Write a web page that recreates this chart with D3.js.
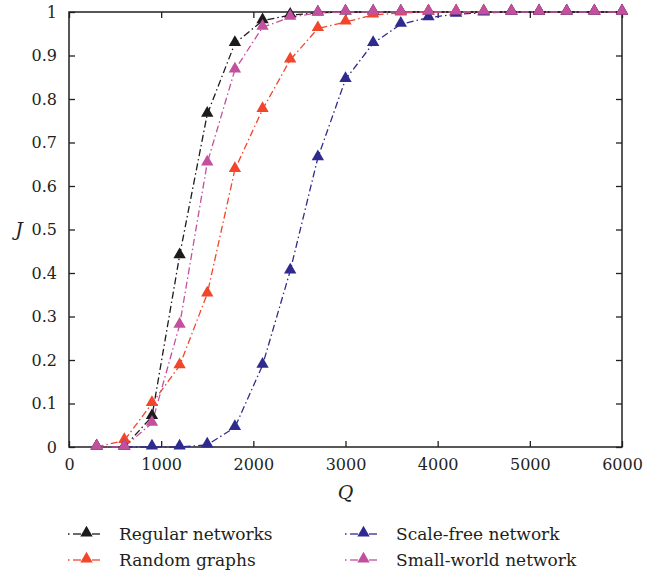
<!DOCTYPE html>
<html><head><meta charset="utf-8">
<script src="https://cdn.jsdelivr.net/npm/d3@7"></script>
<style>body{margin:0;background:#fff}svg{display:block}</style>
</head><body><div id="c"></div>
<script>
const qValues = [300,600,900,1200,1500,1800,2100,2400,2700,3000,3300,3600,3900,4200,4500,4800,5100,5400,5700,6000];
const regular = [0,0,0.07,0.44,0.765,0.928,0.98,0.993,0.998,1,1,1,1,1,1,1,1,1,1,1];
const random = [0,0.015,0.1,0.187,0.352,0.638,0.776,0.89,0.962,0.977,0.993,0.998,1,1,1,1,1,1,1,1];
const scaleFree = [0,0,0,0,0.005,0.045,0.188,0.405,0.665,0.845,0.928,0.972,0.987,0.995,0.998,1,1,1,1,1];
const smallWorld = [0,0,0.055,0.28,0.653,0.867,0.965,0.988,0.998,1,1,1,1,1,1,1,1,1,1,1];
const seriesNames = ["Regular networks","Random graphs","Scale-free network","Small-world network"];
const xTicks = [0,1000,2000,3000,4000,5000,6000];
const yTicks = [0,0.1,0.2,0.3,0.4,0.5,0.6,0.7,0.8,0.9,1];

const FONT = "'DejaVu Serif', serif";
const colors = ["#1c1a1b","#f0462b","#2f2a8e","#c2509e"];
const series = [regular,random,scaleFree,smallWorld];

const W=664,H=576;
const m={l:69,r:42,t:12,b:129};
const svg=d3.select("#c").append("svg").attr("width",W).attr("height",H).style("font-family",FONT);
const x=d3.scaleLinear().domain([0,6000]).range([m.l,W-m.r]);
const y=d3.scaleLinear().domain([0,1]).range([H-m.b,m.t]);

const g=svg.append("g");
const tl=6;
const ax=g.append("g").attr("transform",`translate(0,${y(0)})`).call(d3.axisBottom(x).tickValues(xTicks).tickSize(-tl).tickPadding(12).tickFormat(d3.format("d")));
const axT=g.append("g").attr("transform",`translate(0,${y(1)})`).call(d3.axisTop(x).tickValues(xTicks).tickSize(-tl).tickFormat(""));
const ay=g.append("g").attr("transform",`translate(${x(0)},0)`).call(d3.axisLeft(y).tickValues(yTicks).tickSize(-tl).tickPadding(12).tickFormat(d=>d===0||d===1?String(d):d3.format(".1f")(d)));
const ayR=g.append("g").attr("transform",`translate(${x(6000)},0)`).call(d3.axisRight(y).tickValues(yTicks).tickSize(-tl).tickFormat(""));
[ax,axT,ay,ayR].forEach(a=>{a.attr("font-family",null).style("font-family",FONT).attr("font-size",16);a.selectAll("path,line").attr("stroke","#231f20").attr("stroke-width",1.3);a.select(".domain").attr("d",null);a.selectAll("text").attr("fill","#231f20");});
g.append("rect").attr("x",x(0)).attr("y",y(1)).attr("width",x(6000)-x(0)).attr("height",y(0)-y(1)).attr("fill","none").attr("stroke","#231f20").attr("stroke-width",1.5);

svg.append("text").attr("x",(x(0)+x(6000))/2).attr("y",499).attr("text-anchor","middle").attr("font-size",19).attr("font-style","italic").attr("fill","#231f20").text("Q");
svg.append("text").attr("x",19).attr("y",y(0.5)+6).attr("text-anchor","middle").attr("font-size",19).attr("font-style","italic").attr("fill","#231f20").text("J");

const line=d3.line().x((d,i)=>x(qValues[i])).y(d=>y(d));
const tri=d3.symbol().type(d3.symbolTriangle).size(66);
const plot=svg.append("g");
series.forEach((s,k)=>{
  plot.append("path").datum(s).attr("d",line).attr("fill","none").attr("stroke",colors[k]).attr("stroke-width",1.3).attr("stroke-dasharray","7,3,1.5,3");
});
series.forEach((s,k)=>{
  plot.selectAll(null).data(s).enter().append("path").attr("d",tri).attr("transform",(d,i)=>`translate(${x(qValues[i])},${y(d)-1})`).attr("fill",colors[k]);
});

const leg=[{x:68,y:534},{x:68,y:560},{x:345,y:534},{x:345,y:560}];
seriesNames.forEach((name,k)=>{
  const p=leg[k];
  const lg=svg.append("g").attr("transform",`translate(${p.x},${p.y})`);
  lg.append("line").attr("x1",0).attr("x2",1.5).attr("y1",0).attr("y2",0).attr("stroke",colors[k]).attr("stroke-width",1.3);
  lg.append("line").attr("x1",5).attr("x2",13).attr("y1",0).attr("y2",0).attr("stroke",colors[k]).attr("stroke-width",1.3);
  lg.append("line").attr("x1",24).attr("x2",32).attr("y1",0).attr("y2",0).attr("stroke",colors[k]).attr("stroke-width",1.3);
  lg.append("path").attr("d",tri).attr("transform","translate(18.5,-1)").attr("fill",colors[k]);
  lg.append("text").attr("x",51).attr("y",6).attr("font-size",17).attr("fill","#231f20").text(name);
});
</script></body></html>
